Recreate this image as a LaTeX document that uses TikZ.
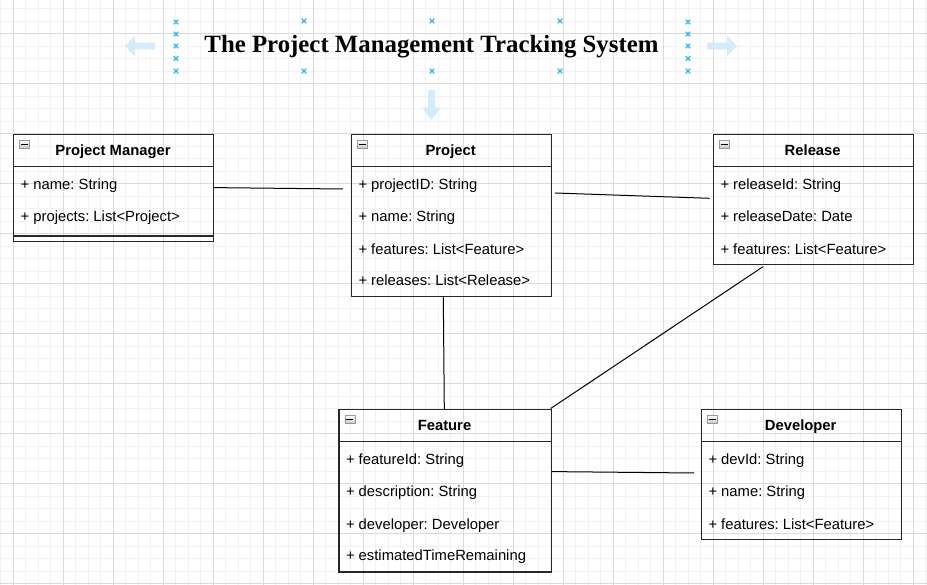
\documentclass[tikz,border=0pt]{standalone}
\usepackage{fontspec}
\setmainfont{Liberation Sans}
\newfontfamily\titlefont{Liberation Serif}
\frenchspacing
\definecolor{gridminor}{RGB}{242,242,242}
\definecolor{gridmajor}{RGB}{218,218,218}
\definecolor{hint}{RGB}{212,236,250}
\definecolor{handle}{RGB}{41,182,242}
\definecolor{boxline}{RGB}{40,40,40}
\begin{document}
\begin{tikzpicture}[x=1pt,y=-1pt,
  gminor/.style={draw=gridminor,line width=0.8pt},
  gmajor/.style={draw=gridmajor,line width=0.9pt},
  classbox/.style={draw=boxline,line width=1.2pt,anchor=north west,inner sep=0pt,minimum width=200pt},
  hdr/.style={font=\fontsize{14.8}{16}\selectfont\bfseries,anchor=center,inner sep=0pt,text height=10.6pt,text depth=0pt},
  attr/.style={font=\fontsize{14.8}{16}\selectfont,anchor=west,inner sep=0pt,text height=10.6pt,text depth=0pt},
  sep/.style={draw=boxline,line width=1.2pt},
  conn/.style={draw=black,line width=1pt},
  handlemark/.style={draw=handle,line width=1.1pt},
  hintarrow/.style={fill=hint,draw=none},
  minusicon/.style={draw=gray!80,line width=0.6pt,top color=white,bottom color=gray!45,minimum width=10pt,minimum height=8.5pt,inner sep=0pt,anchor=north west}
]
\useasboundingbox (0,0) rectangle (927,585);
% grid
\foreach \i in {0,...,74} \draw[gminor] ({0.5+12.5*\i},0) -- ({0.5+12.5*\i},585);
\foreach \i in {0,...,46} \draw[gminor] (0,{8.5+12.5*\i}) -- (927,{8.5+12.5*\i});
\foreach \i in {0,...,18} \draw[gmajor] ({13+50*\i},0) -- ({13+50*\i},585);
\foreach \i in {0,...,11} \draw[gmajor] (0,{33.5+50*\i}) -- (927,{33.5+50*\i});

% title
\node[inner sep=0pt] (title) at (431.5,46.5) {\resizebox{454pt}{!}{\titlefont\bfseries The Project Management Tracking System}};
% selection handles
\foreach \y in {22,34,46,58.5,71} {
  \draw[handlemark] (176-2.3,\y-2.3) -- (176+2.3,\y+2.3) (176-2.3,\y+2.3) -- (176+2.3,\y-2.3);
  \draw[handlemark] (688-2.3,\y-2.3) -- (688+2.3,\y+2.3) (688-2.3,\y+2.3) -- (688+2.3,\y-2.3);
}
\foreach \x in {304,432,560} {
  \foreach \y in {21,71} {
    \draw[handlemark] (\x-2.3,\y-2.3) -- (\x+2.3,\y+2.3) (\x-2.3,\y+2.3) -- (\x+2.3,\y-2.3);
  }
}
% hint arrows
\fill[hintarrow] (125,46) -- (135,35.5) -- (135,42.7) -- (155,42.7) -- (155,49.3) -- (135,49.3) -- (135,56.5) -- cycle;
\fill[hintarrow] (737,46) -- (727,35.5) -- (727,42.7) -- (707,42.7) -- (707,49.3) -- (727,49.3) -- (727,56.5) -- cycle;
\fill[hintarrow] (431.5,120) -- (422.3,107.7) -- (427.8,107.7) -- (427.8,90) -- (435.2,90) -- (435.2,107.7) -- (440.7,107.7) -- cycle;

% Project Manager
\node[classbox,minimum height=107pt] (pm) at (13,134.3) {};
\draw[sep] (13,166.7) -- (213,166.7);
\draw[sep] (13,236) -- (213,236);
\node[minusicon] (pmi) at (19.3,139.8) {};
\draw[line width=1pt] (20.8,144.8) -- (27.8,144.8);
\node[hdr] (pmh) at (113,150.7) {Project Manager};
\node[attr] (pma1) at (20.5,184.5) {+ name: String};
\node[attr] (pma2) at (20.5,215.8) {+ projects: List<Project>};

% Project
\node[classbox,minimum height=162pt] (pr) at (350.7,134.3) {};
\draw[sep] (350.7,166.7) -- (550.7,166.7);
\node[minusicon] (pri) at (357,139.8) {};
\draw[line width=1pt] (358.5,144.8) -- (365.5,144.8);
\node[hdr] (prh) at (450.7,150.7) {Project};
\node[attr] (pra1) at (358.3,184.5) {+ projectID: String};
\node[attr] (pra2) at (358.3,215.8) {+ name: String};
\node[attr] (pra3) at (358.3,249) {+ features: List<Feature>};
\node[attr] (pra4) at (358.3,280.5) {+ releases: List<Release>};

% Release
\node[classbox,minimum height=129.4pt] (re) at (712.7,134.3) {};
\draw[sep] (712.7,166.7) -- (912.7,166.7);
\node[minusicon] (rei) at (719,139.8) {};
\draw[line width=1pt] (720.5,144.8) -- (727.5,144.8);
\node[hdr] (reh) at (812.7,150.7) {Release};
\node[attr] (rea1) at (720.3,184.5) {+ releaseId: String};
\node[attr] (rea2) at (720.3,215.8) {+ releaseDate: Date};
\node[attr] (rea3) at (720.3,249) {+ features: List<Feature>};

% Feature
\node[classbox,minimum width=212.4pt,minimum height=162pt] (fe) at (338.3,409.3) {};
\draw[sep] (338.3,441.7) -- (550.7,441.7);
\node[minusicon] (fei) at (344.6,414.8) {};
\draw[line width=1pt] (346.1,419.8) -- (353.1,419.8);
\node[hdr] (feh) at (444.5,425.7) {Feature};
\node[attr] (fea1) at (345.8,459.5) {+ featureId: String};
\node[attr] (fea2) at (345.8,490.8) {+ description: String};
\node[attr] (fea3) at (345.8,524) {+ developer: Developer};
\node[attr] (fea4) at (345.8,555.5) {+ estimatedTimeRemaining};

% Developer
\node[classbox,minimum height=129.4pt] (de) at (700.7,409.3) {};
\draw[sep] (700.7,441.7) -- (900.7,441.7);
\node[minusicon] (dei) at (707,414.8) {};
\draw[line width=1pt] (708.5,419.8) -- (715.5,419.8);
\node[hdr] (deh) at (800.7,425.7) {Developer};
\node[attr] (dea1) at (708.3,459.5) {+ devId: String};
\node[attr] (dea2) at (708.3,490.8) {+ name: String};
\node[attr] (dea3) at (708.3,524) {+ features: List<Feature>};

% connector end points
\coordinate (c1a) at (213,187.6);
\coordinate (c1b) at (343,189);
\coordinate (c2a) at (555,193);
\coordinate (c2b) at (709.5,198.3);
\coordinate (c3a) at (443.3,296.3);
\coordinate (c3b) at (444.3,409.3);
\coordinate (c4a) at (763,266.7);
\coordinate (c4b) at (550.7,408.5);
\coordinate (c5a) at (552,471.6);
\coordinate (c5b) at (694,473);
\draw[conn] (c1a) -- (c1b);
\draw[conn] (c2a) -- (c2b);
\draw[conn] (c3a) -- (c3b);
\draw[conn] (c4a) -- (c4b);
\draw[conn] (c5a) -- (c5b);
\end{tikzpicture}
\end{document}
